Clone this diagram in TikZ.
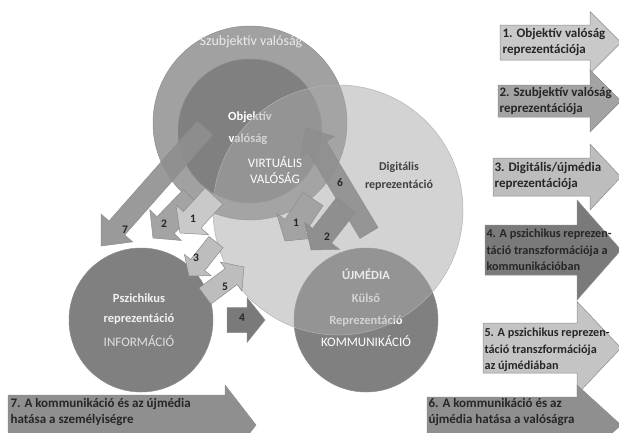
\documentclass[tikz,border=0pt]{standalone}
\usepackage{fontspec}
\setmainfont{Carlito}
\usetikzlibrary{calc}

\definecolor{ring}{gray}{0.63}
\definecolor{inner}{gray}{0.50}
\definecolor{dig}{gray}{0.66}
\definecolor{lab1}{gray}{0.79}
\definecolor{lab2}{gray}{0.64}
\definecolor{lab3}{gray}{0.74}
\definecolor{lab4}{gray}{0.48}
\definecolor{lab5}{gray}{0.77}
\definecolor{lab6}{gray}{0.56}

% fat block arrow: [style]{tail}{tip}{half shaft}{half head}{head length}
\newcommand{\fatarrow}[6][]{%
  \coordinate (#3-n) at ($(#3)!#6pt!(#2)$);
  \filldraw[#1] ($(#2)!#4pt!90:(#3)$) -- ($(#3-n)!#4pt!90:(#3)$)
    -- ($(#3-n)!#5pt!90:(#3)$) -- (#3) -- ($(#3-n)!#5pt!-90:(#3)$)
    -- ($(#3-n)!#4pt!-90:(#3)$) -- ($(#2)!#4pt!-90:(#3)$) -- cycle;
}

\begin{document}
\begin{tikzpicture}[x=1pt, y=-1pt,
        ball/.style={circle, inner sep=0pt, draw=black!45, line width=0.5pt},
        ctext/.style={font=\fontsize{13}{16}\selectfont},
        btext/.style={font=\bfseries\fontsize{12.5}{15}\selectfont},
        num/.style={font=\bfseries\fontsize{11.5}{13}\selectfont, text=black!85},
        lbl/.style={anchor=west, align=left, text=black!85,
                font=\bfseries\fontsize{13}{16.5}\selectfont},
        lbls/.style={lbl, font=\bfseries\fontsize{12.2}{16.5}\selectfont},
        arr/.style={draw=black!45, line width=0.5pt}]
        \clip (0,0) rectangle (619,432);

        % realities
        \node[ball, fill=ring, minimum size=194pt] (szubj) at (250,123) {};
        \node[font=\fontsize{14}{16}\selectfont, text=black!8] (szubjt) at (251,42) {Szubjektív valóság};
        \node[ball, fill=inner, minimum size=144pt] (obj) at (250,131) {};
        \node[btext, text=white] (objt) at (250,117) {Objektív};
        \node[btext, text=white] (objt2) at (248,139) {valóság};
        \node[ball, fill=inner, minimum size=144pt] (ujm) at (366,320) {};
        \node[btext, text=white] (ujm2) at (366,298) {Külső};
        \node[btext, text=white] (ujm3) at (366,321) {Reprezentáció};
        \node[ball, fill=dig, fill opacity=0.5, draw=black!30,
                minimum size=250pt] (digi) at (338,210) {};
        \node[ball, fill=inner, minimum size=144pt] (psz) at (141,320) {};

        \node[ctext, text=white, align=center] (virt) at (275,170) {VIRTUÁLIS\\VALÓSÁG};
        \node[btext, text=black!75, align=center,
                font=\bfseries\fontsize{12}{18}\selectfont] (digt) at (399,176) {Digitális\\reprezentáció};
        \node[btext, text=black!8] (ujm1) at (366,274) {ÚJMÉDIA};
        \node[ctext, text=white] (ujm4) at (366,341) {KOMMUNIKÁCIÓ};
        \node[btext, text=black!5] (psz1) at (139,298) {Pszichikus};
        \node[btext, text=black!5] (psz2) at (139,319) {reprezentáció};
        \node[ctext, text=black!12] (psz3) at (139,341) {INFORMÁCIÓ};

        % arrows between them
        \coordinate (s7) at (205,128);
        \coordinate (t7) at (101,246);
        \fatarrow[arr, fill=lab6, fill opacity=0.9]{s7}{t7}{10.5}{21}{24}
        \coordinate (s6) at (369,233);
        \coordinate (t6) at (306,128);
        \fatarrow[arr, fill=lab6, fill opacity=0.9]{s6}{t6}{10.5}{20}{22}
        \coordinate (sa2) at (192,198);
        \coordinate (ta2) at (153,238);
        \fatarrow[arr, fill=lab2]{sa2}{ta2}{12}{22}{18}
        \coordinate (sa1) at (214,196);
        \coordinate (ta1) at (180,233);
        \fatarrow[arr, fill=lab1]{sa1}{ta1}{12}{22}{18}
        \coordinate (sa3) at (216,242);
        \coordinate (ta3) at (189,276);
        \fatarrow[arr, fill=lab3]{sa3}{ta3}{9}{17}{14}
        \coordinate (sa5) at (205,296);
        \coordinate (ta5) at (244,267);
        \fatarrow[arr, fill=lab3]{sa5}{ta5}{10}{18}{16}
        \coordinate (sa4) at (227,320);
        \coordinate (ta4) at (265,320);
        \fatarrow[arr, fill=lab4]{sa4}{ta4}{12.5}{22.5}{18}
        \coordinate (sb1) at (313,199);
        \coordinate (tb1) at (285,241);
        \fatarrow[arr, fill=lab2]{sb1}{tb1}{12}{22}{18}
        \coordinate (sb2) at (346,205);
        \coordinate (tb2) at (311,250);
        \fatarrow[arr, fill=lab6]{sb2}{tb2}{12}{22}{18}

        \node[num] (n7) at (125,230) {7};
        \node[num] (n6) at (340,183) {6};
        \node[num] (n2) at (164,224) {2};
        \node[num] (n1) at (193,219) {1};
        \node[num] (n3) at (196,258) {3};
        \node[num] (n5) at (225,287) {5};
        \node[num] (n4) at (242,318) {4};
        \node[num] (m1) at (296,223) {1};
        \node[num] (m2) at (327,237) {2};

        % legend
        \foreach \i/\xs/\yc/\w/\hh/\hl/\col in {1/500/42.5/17.5/31/31/lab1,
                        2/498/101/16/31/31/lab2, 3/493/177/19/33/31/lab3,
                        4/485/250/25/50/44/lab4, 5/483/348/25/46.5/44/lab5,
                        6/427/425/28/40/44/lab6}
        {
                \coordinate (ls\i) at (\xs,\yc);
                \coordinate (lt\i) at (621,\yc);
                \fatarrow[arr, fill=\col]{ls\i}{lt\i}{\w}{\hh}{\hl}
        }
        \coordinate (ls7) at (8,425);
        \coordinate (lt7) at (256,425);
        \fatarrow[arr, fill=lab6]{ls7}{lt7}{30}{40}{31}

        \node[lbl] (d1) at (499,42) {1. Objektív valóság\\reprezentációja};
        \node[lbl] (d2) at (496,101) {2. Szubjektív valóság\\reprezentációja};
        \node[lbl] (d3) at (491,176) {3. Digitális/újmédia\\reprezentációja};
        \node[lbls] (d4) at (483,250) {4. A pszichikus reprezen-\\táció transzformációja a\\kommunikációban};
        \node[lbls] (d5) at (481,350) {5. A pszichikus reprezen-\\táció transzformációja\\az újmédiában};
        \node[lbl] (d6) at (425,412) {6. A kommunikáció és az\\újmédia hatása a valóságra};
        \node[lbl] (d7) at (7,412) {7. A kommunikáció és az újmédia\\hatása a személyiségre};
\end{tikzpicture}
\end{document}
